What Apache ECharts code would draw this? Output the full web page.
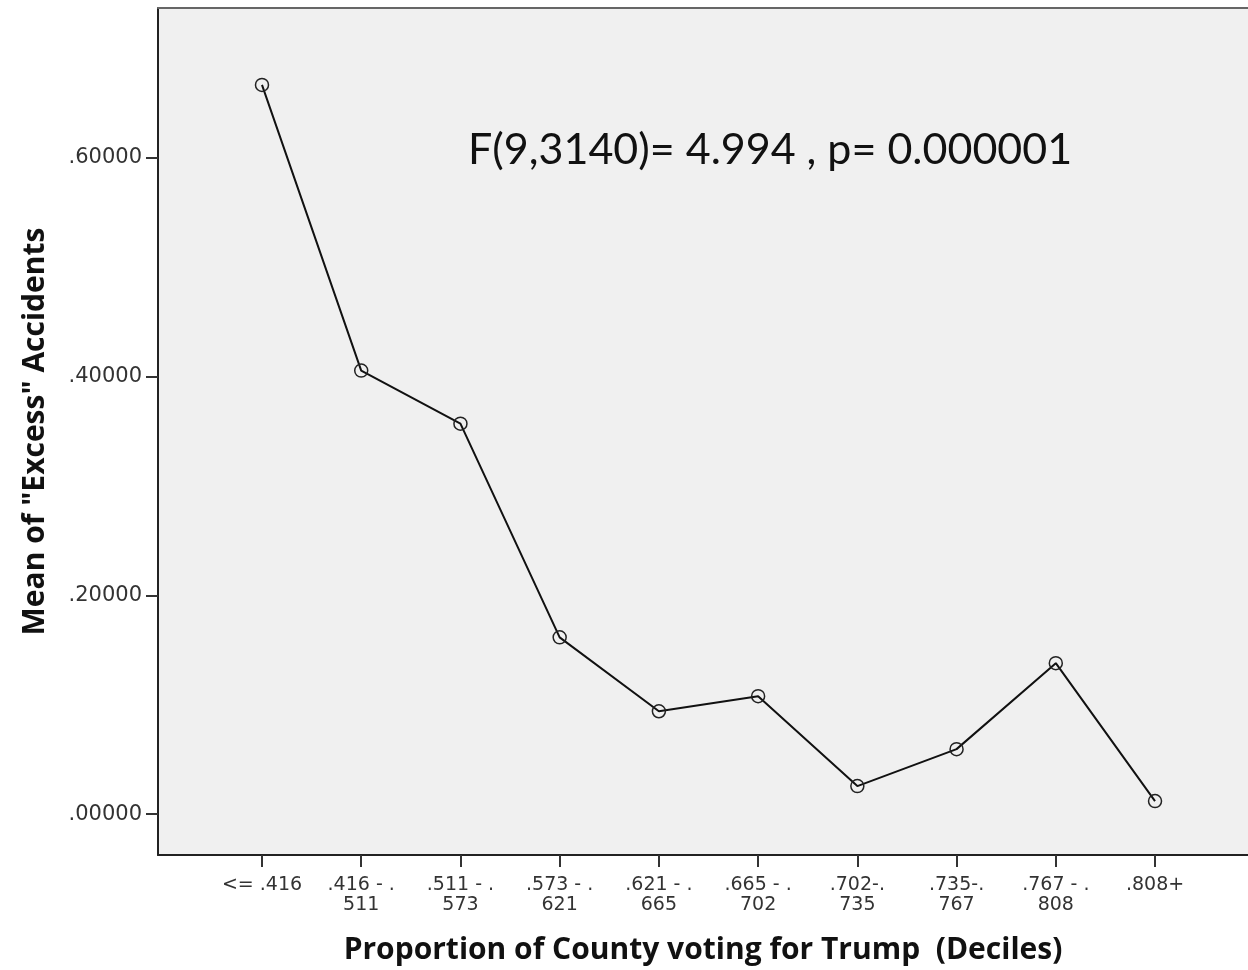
<!DOCTYPE html>
<html>
<head>
<meta charset="utf-8">
<script src="https://cdn.jsdelivr.net/npm/echarts@6/dist/echarts.min.js"></script>
<style>
html,body{margin:0;padding:0;background:#fff;}
#chart{width:1248px;height:970px;}
</style>
</head>
<body>
<div id="chart"></div>
<script>
const categories = ['<= .416', '.416 - .\n511', '.511 - .\n573', '.573 - .\n621', '.621 - .\n665', '.665 - .\n702', '.702-.\n735', '.735-.\n767', '.767 - .\n808', '.808+'];
const means = [0.6667, 0.4055, 0.3570, 0.1616, 0.0940, 0.1078, 0.0256, 0.0594, 0.1380, 0.0119];
const yTicks = [0, 0.2, 0.4, 0.6];
const annotation = 'F(9,3140)= 4.994 , p= 0.000001';
const xTitle = 'Proportion of County voting for Trump  (Deciles)';
const yTitle = 'Mean of "Excess" Accidents';

const chart = echarts.init(document.getElementById('chart'), null, {renderer: 'canvas'});
const idx = categories.map((c, i) => i);
chart.setOption({
  animation: false,
  backgroundColor: '#ffffff',
  grid: {left: 158, right: 0, top: 8, bottom: 111, show: true, backgroundColor: '#f0f0f0', borderWidth: 0},
  xAxis: [{
    type: 'value', min: -1.048, max: 9.937,
    name: xTitle, nameLocation: 'middle', nameGap: 80,
    nameTextStyle: {fontFamily: 'Open Sans', fontWeight: 'bold', fontSize: 30, color: '#111'},
    axisLine: {show: true, onZero: false, lineStyle: {color: '#222', width: 2}},
    axisTick: {show: true, customValues: idx, length: 12, lineStyle: {color: '#333', width: 2}},
    axisLabel: {customValues: idx, formatter: v => categories[Math.round(v)], fontFamily: 'DejaVu Sans', fontSize: 19, color: '#333', lineHeight: 20, margin: 20},
    splitLine: {show: false}
  }, {
    type: 'value', position: 'top', min: -1.048, max: 9.937,
    axisLine: {show: true, onZero: false, lineStyle: {color: '#666', width: 2}},
    axisTick: {show: false}, axisLabel: {show: false}, splitLine: {show: false}
  }],
  yAxis: {
    type: 'value', min: -0.0374, max: 0.737,
    name: yTitle, nameLocation: 'middle', nameGap: 108, nameRotate: 90,
    nameTextStyle: {fontFamily: 'Open Sans', fontWeight: 'bold', fontSize: 30, color: '#111'},
    axisLine: {show: true, onZero: false, lineStyle: {color: '#222', width: 2}},
    axisTick: {show: true, customValues: yTicks, length: 12, lineStyle: {color: '#333', width: 2}},
    axisLabel: {customValues: yTicks, formatter: v => v.toFixed(5).replace(/^0/, ''), fontFamily: 'DejaVu Sans', fontSize: 21, color: '#333', margin: 16},
    splitLine: {show: false}
  },
  graphic: [{type: 'text', left: 468, top: 129, style: {text: annotation, fontFamily: 'Lato', fontSize: 43, fill: '#111'}}],
  series: [{
    type: 'line',
    data: means.map((v, i) => [i, v]),
    symbol: 'circle', symbolSize: 13,
    itemStyle: {color: 'rgba(0,0,0,0)', borderColor: '#222', borderWidth: 1.5},
    lineStyle: {color: '#111', width: 2}
  }]
});
</script>
</body>
</html>
